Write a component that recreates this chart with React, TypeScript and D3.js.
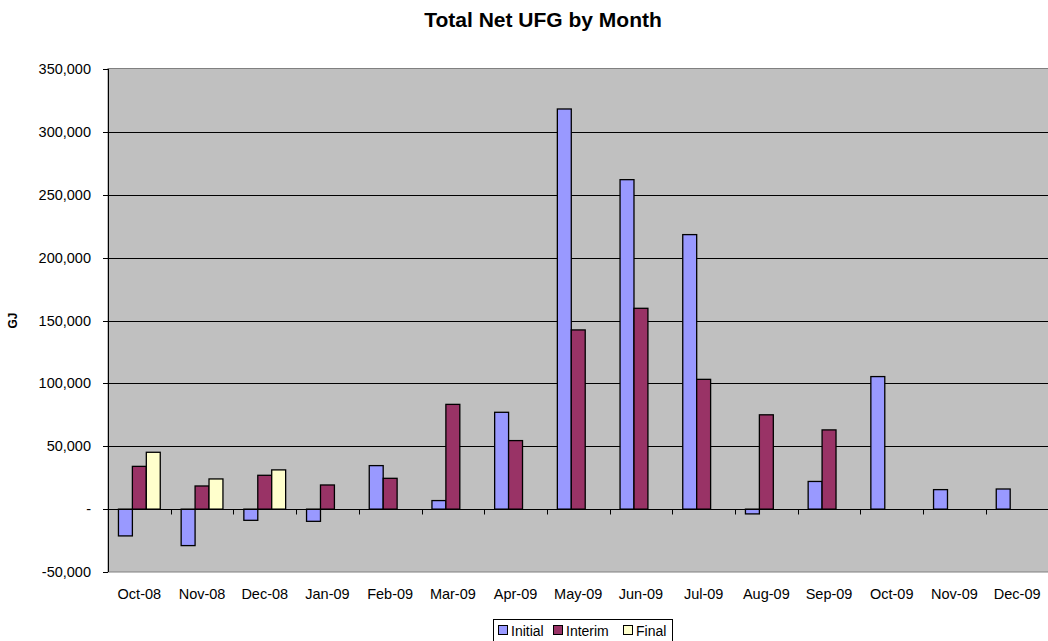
import React, { useEffect, useRef } from 'react';
import * as d3 from 'd3';

const months = [
  'Oct-08', 'Nov-08', 'Dec-08', 'Jan-09', 'Feb-09', 'Mar-09', 'Apr-09', 'May-09',
  'Jun-09', 'Jul-09', 'Aug-09', 'Sep-09', 'Oct-09', 'Nov-09', 'Dec-09',
];
const initial = [-21300, -29000, -8900, -9700, 34600, 6800, 77000, 318200, 262000, 218300, -3800, 22000, 105400, 15500, 16000];
const interim = [34000, 18400, 26900, 19200, 24500, 83300, 54500, 142500, 159700, 103200, 75000, 63000, null, null, null];
const final = [45200, 24000, 31200, null, null, null, null, null, null, null, null, null, null, null, null];
const seriesNames = ['Initial', 'Interim', 'Final'];
const yTicks = [-50000, 0, 50000, 100000, 150000, 200000, 250000, 300000, 350000];

export default function App() {
  const svgRef = useRef<SVGSVGElement>(null);

  useEffect(() => {
    if (!svgRef.current) return;
    const svg = d3.select(svgRef.current);
    svg.selectAll('*').remove();

    const font = '"Liberation Sans", Arial, sans-serif';
    const colors = ['#9999FF', '#993366', '#FFFFCC'];
    const plot = { left: 108, top: 69, right: 1048.5, bottom: 572 };

    const x = d3.scaleBand<string>()
      .domain(months)
      .range([plot.left, plot.right])
      .paddingInner(0)
      .paddingOuter(0);
    const y = d3.scaleLinear().domain([-50000, 350000]).range([plot.bottom, plot.top]);
    // gap width 150% -> 3 bars + 1.5 bar gap per category
    const barW = x.bandwidth() / 4.5;

    // plot background
    svg.append('rect')
      .attr('x', plot.left).attr('y', plot.top - 0.5)
      .attr('width', plot.right - plot.left).attr('height', plot.bottom - plot.top + 0.5)
      .attr('fill', '#C0C0C0').attr('stroke', '#808080').attr('stroke-width', 1);

    // gridlines
    svg.append('g').selectAll('line')
      .data(yTicks.filter(t => t !== -50000 && t !== 350000 && t !== 0))
      .join('line')
      .attr('x1', plot.left).attr('x2', plot.right)
      .attr('y1', d => Math.round(y(d)) + 0.5).attr('y2', d => Math.round(y(d)) + 0.5)
      .attr('stroke', '#000').attr('stroke-width', 1);

    // bars
    const all = [initial, interim, final];
    all.forEach((vals, si) => {
      svg.append('g').selectAll('rect')
        .data(vals.map((v, i) => ({ v, m: months[i] })).filter(d => d.v !== null))
        .join('rect')
        .attr('x', d => (x(d.m) as number) + barW * 0.75 + si * barW)
        .attr('y', d => y(Math.max(0, d.v as number)))
        .attr('width', barW)
        .attr('height', d => Math.abs(y(d.v as number) - y(0)))
        .attr('fill', colors[si])
        .attr('stroke', '#000')
        .attr('stroke-width', 1.3);
    });

    // zero axis with category ticks
    const y0 = Math.round(y(0)) + 0.5;
    svg.append('line')
      .attr('x1', plot.left).attr('x2', plot.right)
      .attr('y1', y0).attr('y2', y0)
      .attr('stroke', '#000').attr('stroke-width', 1);
    svg.append('g').selectAll('line')
      .data(months.slice(1))
      .join('line')
      .attr('x1', d => Math.round(x(d) as number) + 0.5)
      .attr('x2', d => Math.round(x(d) as number) + 0.5)
      .attr('y1', y0).attr('y2', y0 + 5)
      .attr('stroke', '#000');

    // y axis
    svg.append('line')
      .attr('x1', plot.left + 0.5).attr('x2', plot.left + 0.5)
      .attr('y1', plot.top).attr('y2', plot.bottom)
      .attr('stroke', '#000');
    const fmt = d3.format(',');
    const yg = svg.append('g').selectAll('g').data(yTicks).join('g');
    yg.append('line')
      .attr('x1', plot.left - 5).attr('x2', plot.left)
      .attr('y1', d => Math.round(y(d)) + 0.5).attr('y2', d => Math.round(y(d)) + 0.5)
      .attr('stroke', '#000');
    yg.append('text')
      .attr('x', 91)
      .attr('y', d => y(d) + 5)
      .attr('text-anchor', 'end')
      .attr('font-family', font)
      .attr('font-size', 14.5)
      .attr('fill', '#000')
      .text(d => (d === 0 ? '-' : fmt(d).replace('\u2212', '-')));

    // x labels
    svg.append('g').selectAll('text')
      .data(months)
      .join('text')
      .attr('x', d => (x(d) as number) + x.bandwidth() / 2)
      .attr('y', 599)
      .attr('text-anchor', 'middle')
      .attr('font-family', font)
      .attr('font-size', 14.5)
      .attr('fill', '#000')
      .text(d => d);

    // title
    svg.append('text')
      .attr('x', 543).attr('y', 27)
      .attr('text-anchor', 'middle')
      .attr('font-family', font)
      .attr('font-size', 21)
      .attr('font-weight', 'bold')
      .text('Total Net UFG by Month');

    // y label
    svg.append('text')
      .attr('transform', `translate(17,${(plot.top + plot.bottom) / 2}) rotate(-90)`)
      .attr('text-anchor', 'middle')
      .attr('font-family', font)
      .attr('font-size', 12)
      .attr('font-weight', 'bold')
      .text('GJ');

    // legend
    const lg = svg.append('g');
    lg.append('rect')
      .attr('x', 493.5).attr('y', 619.5).attr('width', 179).attr('height', 30)
      .attr('fill', '#fff').attr('stroke', '#000');
    const items = [
      { name: seriesNames[0], x: 498 },
      { name: seriesNames[1], x: 553 },
      { name: seriesNames[2], x: 623 },
    ];
    items.forEach((it, i) => {
      lg.append('rect')
        .attr('x', it.x + 0.5).attr('y', 625.5).attr('width', 9).attr('height', 9)
        .attr('fill', colors[i]).attr('stroke', '#000');
      lg.append('text')
        .attr('x', it.x + 13).attr('y', 636)
        .attr('font-family', font)
        .attr('font-size', 14)
        .attr('fill', '#000')
        .text(it.name);
    });
  }, []);

  return (
    <svg
      ref={svgRef}
      width={1048}
      height={641}
      style={{ position: 'absolute', left: 0, top: 0, display: 'block', background: '#fff' }}
    />
  );
}
